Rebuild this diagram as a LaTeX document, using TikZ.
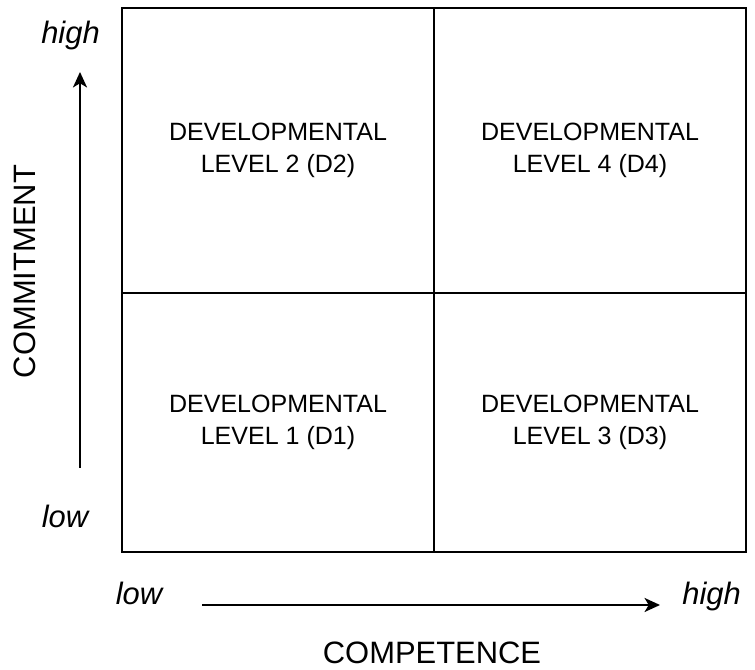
\documentclass[tikz,border=0pt]{standalone}
\usepackage{fontspec}
\setmainfont{Liberation Sans}
\usetikzlibrary{arrows.meta}

\begin{document}
\begin{tikzpicture}[
    every node/.style={font=\fontsize{17.8}{22.5}\selectfont, align=center},
    axistitle/.style={font=\fontsize{22}{26}\selectfont, anchor=base},
    axislabel/.style={font=\fontsize{22}{26}\selectfont\itshape, anchor=base},
    axisarrow/.style={line width=1.4pt, -{Stealth[length=11pt,width=10pt,inset=3pt]}}
  ]
    \useasboundingbox (0,0) rectangle (18.875,16.75);

    \draw[line width=1.5pt] (3.05,2.95) rectangle (18.65,16.55);
    \draw[line width=1.5pt] (10.85,2.95)--(10.85,16.55);
    \draw[line width=1.5pt] (3.05,9.425)--(18.65,9.425);

    \node (d2) at (6.95,12.99) {DEVELOPMENTAL\\LEVEL 2 (D2)};
    \node (d4) at (14.75,12.99) {DEVELOPMENTAL\\LEVEL 4 (D4)};
    \node (d1) at (6.95,6.19) {DEVELOPMENTAL\\LEVEL 1 (D1)};
    \node (d3) at (14.75,6.19) {DEVELOPMENTAL\\LEVEL 3 (D3)};

    \node[axislabel] (yhigh) at (1.7625,15.65) {high};
    \node[axislabel] (ylow) at (1.625,3.55) {low};
    \coordinate (ystart) at (2.0,5.05);
    \coordinate (yend) at (2.0,14.95);
    \draw[axisarrow] (ystart)--(yend);
    \node[font=\fontsize{22}{26}\selectfont, rotate=90] (commit) at (0.6125,9.9625) {COMMITMENT};

    \node[axislabel] (xlow) at (3.475,1.625) {low};
    \node[axislabel] (xhigh) at (17.79,1.625) {high};
    \coordinate (xstart) at (5.05,1.625);
    \coordinate (xend) at (16.5,1.625);
    \draw[axisarrow] (xstart)--(xend);
    \node[axistitle] (compet) at (10.8,0.16) {COMPETENCE};
  \end{tikzpicture}
\end{document}
